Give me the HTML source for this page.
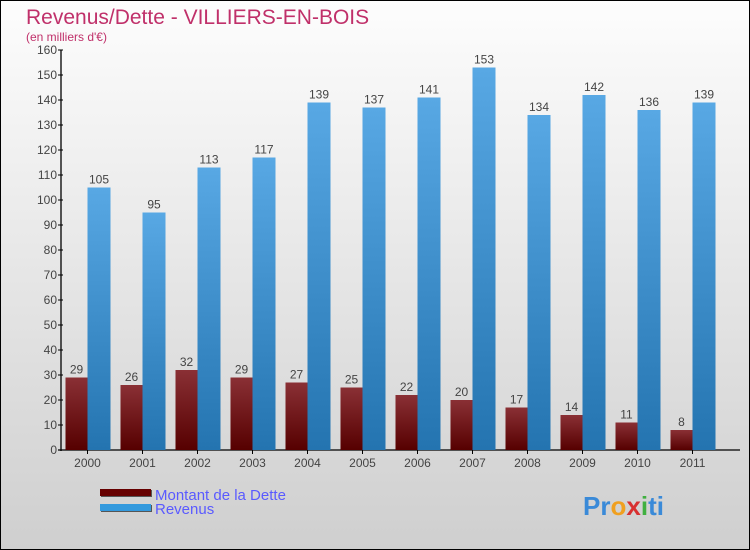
<!DOCTYPE html>
<html><head><meta charset="utf-8"><style>
body{margin:0}
#c{width:750px;height:550px;box-sizing:border-box;border:1px solid #000;background:linear-gradient(#fdfdfd,#cfcfcf);position:relative;font-family:"Liberation Sans",sans-serif;overflow:hidden}
</style></head><body>
<div id="c">
<svg width="750" height="550" style="position:absolute;left:-1px;top:-1px">
<defs>
<linearGradient id="gd" x1="0" y1="0" x2="0" y2="1"><stop offset="0" stop-color="#8a3035"/><stop offset="1" stop-color="#560000"/></linearGradient>
<linearGradient id="gr" x1="0" y1="0" x2="0" y2="1"><stop offset="0" stop-color="#58a8e4"/><stop offset="1" stop-color="#2474b0"/></linearGradient>
</defs>
<text x="26" y="24" font-size="21" fill="#c0306a">Revenus/Dette - VILLIERS-EN-BOIS</text>
<text x="26" y="41" font-size="12" fill="#c0306a">(en milliers d'€)</text>
<g id="axes"></g>
<g id="bars"></g>
<g>
<rect x="101" y="490" width="51" height="7" fill="#555"/><rect x="100" y="489" width="51" height="7" fill="#660000"/>
<text x="155" y="500" font-size="15" fill="#5a5aff">Montant de la Dette</text>
<rect x="101" y="505" width="51" height="7" fill="#555"/><rect x="100" y="504" width="51" height="7" fill="#3399dd"/>
<text x="155" y="514" font-size="15" fill="#5a5aff">Revenus</text>
</g>
<text x="583" y="515" font-size="26" font-weight="bold"><tspan fill="#3a8ad8">Pr</tspan><tspan fill="#f0a020">o</tspan><tspan fill="#d83030">x</tspan><tspan fill="#40b040">i</tspan><tspan fill="#3a8ad8">ti</tspan></text>
</svg>
</div>
<script>
const years=["2000","2001","2002","2003","2004","2005","2006","2007","2008","2009","2010","2011"];
const dette=[29,26,32,29,27,25,22,20,17,14,11,8];
const revenus=[105,95,113,117,139,137,141,153,134,142,136,139];
const ticks=[0,10,20,30,40,50,60,70,80,90,100,110,120,130,140,150,160];
const NS="http://www.w3.org/2000/svg";
const x0=60,band=55,y0=450,ymax=160,ph=400;
const y=v=>y0-v/ymax*ph;
const xc=i=>x0+band*i+27.5;
function mk(t,a,p,txt){const e=document.createElementNS(NS,t);for(const k in a)e.setAttribute(k,a[k]);if(txt!==undefined)e.textContent=txt;p.appendChild(e);return e;}
const ax=document.getElementById('axes'),bg=document.getElementById('bars');
const yl=mk('line',{x1:61,y1:50,x2:61,y2:451,stroke:'#000','stroke-width':1.3},ax);


const xl=mk('line',{x1:58,y1:450,x2:740,y2:450,stroke:'#000','stroke-width':1.3},ax);


ticks.forEach(t=>{
 mk('line',{x1:58,y1:y(t),x2:63,y2:y(t),stroke:'#000'},ax);
 const e=mk('text',{x:57,y:y(t)+4,'font-size':12,fill:'#444','text-anchor':'end'},ax,t);
 
 
});
years.forEach((yr,i)=>{
 const c=xc(i);
 mk('line',{x1:c,y1:450,x2:c,y2:454,stroke:'#000'},ax);
 const e=mk('text',{x:c,y:467,'font-size':12,fill:'#444','text-anchor':'middle'},ax,yr);
 
 
 const d=mk('rect',{x:c-22,y:y(dette[i]),width:22,height:y0-y(dette[i]),fill:'url(#gd)'},bg);
 
 
 const r=mk('rect',{x:c,y:y(revenus[i]),width:23,height:y0-y(revenus[i]),fill:'url(#gr)'},bg);
 
 
 const dl=mk('text',{x:c-11,y:y(dette[i])-4,'font-size':12,fill:'#444','text-anchor':'middle'},bg,dette[i]);
 
 
 const rl=mk('text',{x:c+11.5,y:y(revenus[i])-4,'font-size':12,fill:'#444','text-anchor':'middle'},bg,revenus[i]);
 
 
});
</script>
</body></html>
